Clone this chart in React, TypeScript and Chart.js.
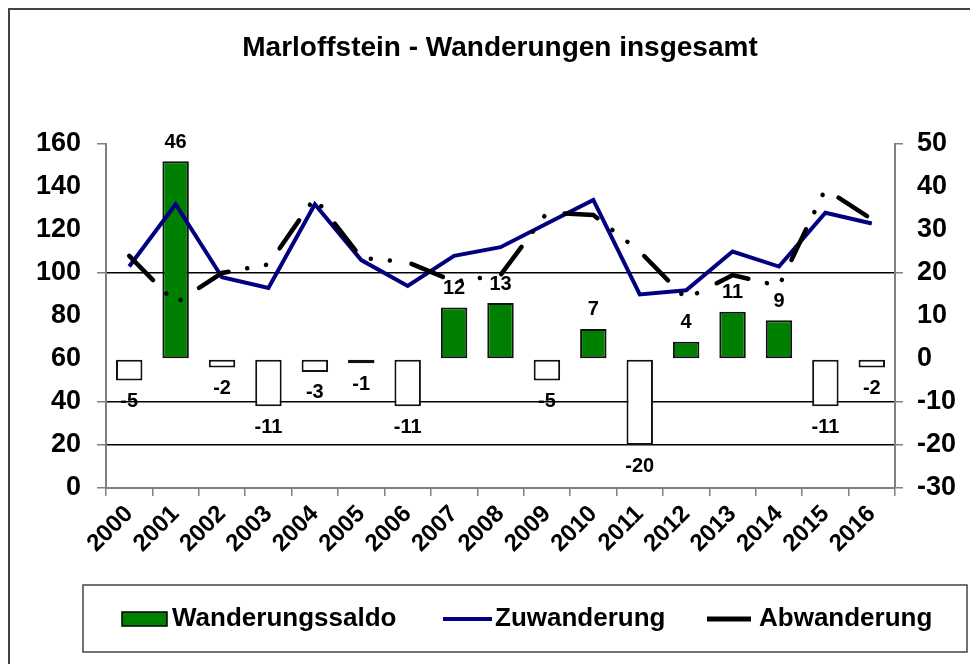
import React, { useEffect, useRef } from "react";
import { Chart, registerables } from "chart.js";

Chart.register(...registerables);

const chartTitle = "Marloffstein - Wanderungen insgesamt";
const years = ["2000", "2001", "2002", "2003", "2004", "2005", "2006", "2007", "2008", "2009", "2010", "2011", "2012", "2013", "2014", "2015", "2016"];
const saldo = [-5, 46, -2, -11, -3, -1, -11, 12, 13, -5, 7, -20, 4, 11, 9, -11, -2];
const zuwanderung = [103, 132, 98, 93, 132, 106, 94, 108, 112, 123, 134, 90, 92, 110, 103, 128, 123];
const abwanderung = [108, 86, 100, 104, 135, 107, 105, 96, 99, 128, 127, 110, 88, 99, 94, 139, 125];
const seriesNames = ["Wanderungssaldo", "Zuwanderung", "Abwanderung"];
const leftGridValues = [100, 40, 20];
const leftTickMarks = [160, 100, 40, 20, 0];
const rightTickMarks = [50, 20, -10, -20, -30];

const FONT = '"Liberation Sans", Arial, Helvetica, sans-serif';

export default function App() {
  const ref = useRef<HTMLCanvasElement | null>(null);

  useEffect(() => {
    const canvas = ref.current;
    if (!canvas) return;

    const decorPlugin = {
      id: "decor",
      beforeDraw(chart: any) {
        const ctx = chart.ctx;
        ctx.save();
        ctx.fillStyle = "#fff";
        ctx.fillRect(0, 0, chart.width, chart.height);
        ctx.strokeStyle = "#444";
        ctx.lineWidth = 2;
        ctx.beginPath();
        ctx.moveTo(1, chart.height);
        ctx.lineTo(1, 1);
        ctx.lineTo(chart.width, 1);
        ctx.stroke();
        ctx.restore();
      },
      afterDatasetsDraw(chart: any) {
        const ctx = chart.ctx;
        const meta = chart.getDatasetMeta(0);
        ctx.save();
        ctx.fillStyle = "#000";
        ctx.font = `bold 20px ${FONT}`;
        ctx.textAlign = "center";
        ctx.textBaseline = "middle";
        meta.data.forEach((el: any, i: number) => {
          const v = saldo[i];
          const y = v >= 0 ? el.y - 19 : el.y + 21;
          ctx.fillText(String(v), el.x, y);
        });
        ctx.restore();
      },
      afterDraw(chart: any) {
        const ctx = chart.ctx;
        ctx.save();
        // title
        ctx.fillStyle = "#000";
        ctx.font = `bold 28px ${FONT}`;
        ctx.textAlign = "center";
        ctx.textBaseline = "middle";
        ctx.fillText(chartTitle, 492, 40);
        // legend box
        ctx.strokeStyle = "#444";
        ctx.lineWidth = 1.5;
        ctx.strokeRect(75, 577, 884, 67);
        const ly = 611;
        ctx.fillStyle = "#008000";
        ctx.fillRect(114, 604, 45, 14);
        ctx.strokeStyle = "#000";
        ctx.lineWidth = 1.5;
        ctx.strokeRect(114, 604, 45, 14);
        ctx.lineWidth = 4;
        ctx.strokeStyle = "#000080";
        ctx.beginPath();
        ctx.moveTo(435, ly);
        ctx.lineTo(484, ly);
        ctx.stroke();
        ctx.lineWidth = 5;
        ctx.strokeStyle = "#000";
        ctx.beginPath();
        ctx.moveTo(699, ly);
        ctx.lineTo(743, ly);
        ctx.stroke();
        ctx.fillStyle = "#000";
        ctx.font = `bold 26px ${FONT}`;
        ctx.textAlign = "left";
        ctx.fillText(seriesNames[0], 164, ly);
        ctx.fillText(seriesNames[1], 487, ly);
        ctx.fillText(seriesNames[2], 751, ly);
        ctx.restore();
      },
    };

    const chart = new Chart(canvas, {
      type: "bar",
      data: {
        labels: years,
        datasets: [
          {
            type: "bar",
            label: seriesNames[0],
            data: saldo,
            yAxisID: "y1",
            backgroundColor: saldo.map((v) => (v >= 0 ? "#008000" : "#ffffff")),
            borderColor: "#111",
            borderWidth: 2,
            borderSkipped: false,
            categoryPercentage: 1,
            barPercentage: 0.57,
            order: 3,
          } as any,
          {
            type: "line",
            label: seriesNames[1],
            data: zuwanderung,
            yAxisID: "y",
            borderColor: "#000080",
            borderWidth: 4,
            pointRadius: 0,
            tension: 0,
            fill: false,
            order: 2,
          } as any,
          {
            type: "line",
            label: seriesNames[2],
            data: abwanderung,
            yAxisID: "y",
            borderColor: "#000",
            borderWidth: 4.5,
            borderDash: [34, 19, 0.1, 19, 0.1, 22],
            borderCapStyle: "round",
            pointRadius: 0,
            tension: 0,
            fill: false,
            order: 1,
          } as any,
        ],
      },
      options: {
        responsive: false,
        animation: false,
        devicePixelRatio: 1,
        layout: { padding: { top: 136, left: 0, right: 0, bottom: 0 } },
        plugins: {
          legend: { display: false },
          title: { display: false },
          tooltip: { enabled: false },
        },
        scales: {
          x: {
            type: "category",
            offset: true,
            grid: {
              drawOnChartArea: false,
              offset: true,
              tickLength: 8,
              color: "#808080",
              lineWidth: 1.5,
            },
            border: { display: true, color: "#808080", width: 2 },
            ticks: {
              autoSkip: false,
              maxRotation: 45,
              minRotation: 45,
              padding: 4,
              color: "#000",
              font: { family: FONT, size: 24, weight: "bold" },
            },
            afterFit: (scale: any) => {
              scale.height = 176;
            },
          },
          y: {
            type: "linear",
            position: "left",
            min: 0,
            max: 160,
            ticks: {
              stepSize: 20,
              padding: 16,
              color: "#000",
              font: { family: FONT, size: 27, weight: "bold" },
            },
            grid: {
              drawOnChartArea: true,
              tickLength: 9,
              lineWidth: 1.5,
              color: (c: any) => (c.tick && leftGridValues.includes(c.tick.value) ? "#000" : "rgba(0,0,0,0)"),
              tickColor: (c: any) => (c.tick && leftTickMarks.includes(c.tick.value) ? "#808080" : "rgba(0,0,0,0)"),
            },
            border: { display: true, color: "#808080", width: 2 },
            afterFit: (scale: any) => {
              scale.width = 98;
            },
          },
          y1: {
            type: "linear",
            position: "right",
            min: -30,
            max: 50,
            ticks: {
              stepSize: 10,
              padding: 14,
              color: "#000",
              font: { family: FONT, size: 27, weight: "bold" },
            },
            grid: {
              drawOnChartArea: false,
              tickLength: 8,
              lineWidth: 1.5,
              color: "rgba(0,0,0,0)",
              tickColor: (c: any) => (c.tick && rightTickMarks.includes(c.tick.value) ? "#808080" : "rgba(0,0,0,0)"),
            },
            border: { display: true, color: "#808080", width: 2 },
            afterFit: (scale: any) => {
              scale.width = 75;
            },
          },
        },
      } as any,
      plugins: [decorPlugin],
    });

    return () => chart.destroy();
  }, []);

  return (
    <div style={{ width: 962, height: 656 }}>
      <canvas ref={ref} width={962} height={656} style={{ display: "block", width: 962, height: 656 }} />
    </div>
  );
}
